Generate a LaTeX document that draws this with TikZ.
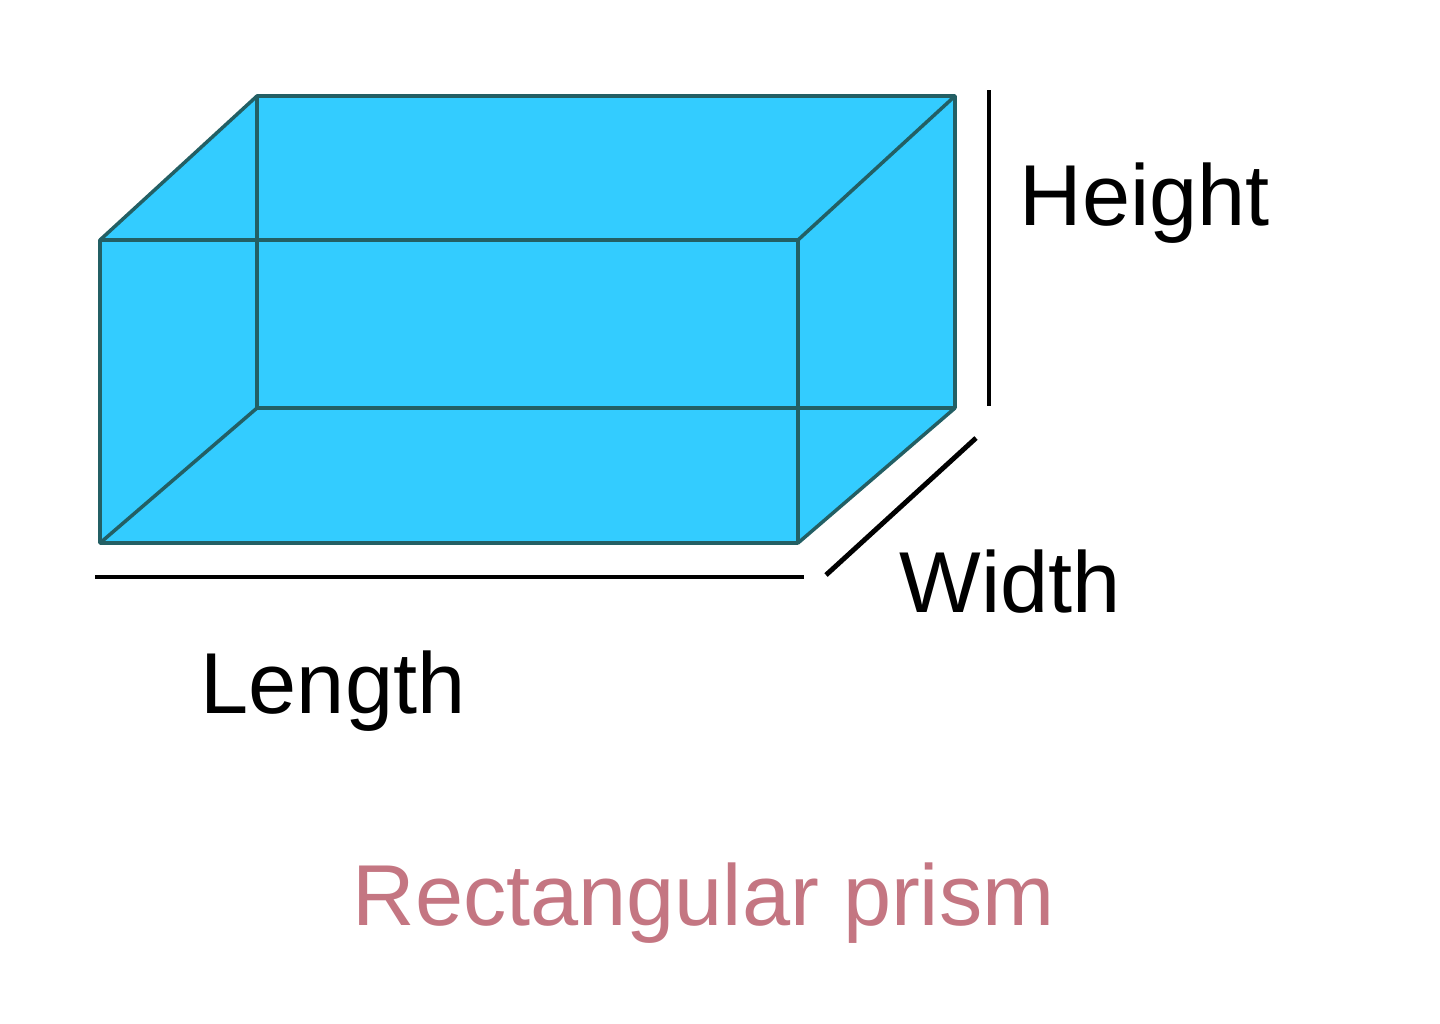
\documentclass[tikz,border=0pt]{standalone}
\usepackage{fontspec}
\setmainfont{Liberation Sans}
\definecolor{prismfill}{RGB}{51,204,255}
\definecolor{prismedge}{RGB}{35,95,100}
\definecolor{captionpink}{RGB}{196,118,130}
\begin{document}
\begin{tikzpicture}[x=0.01cm,y=-0.01cm,
  edge/.style={draw=prismedge,line width=1pt,line join=round},
  dimline/.style={draw=black,line width=1.4pt},
  lbl/.style={anchor=base west,inner sep=0pt,font=\fontsize{24.6}{28}\selectfont},
  ]
\useasboundingbox (0,0) rectangle (1440,1023);
% front face
\coordinate (FTL) at (100,240);
\coordinate (FTR) at (798,240);
\coordinate (FBR) at (798,543);
\coordinate (FBL) at (100,543);
% back face
\coordinate (BTL) at (257,96);
\coordinate (BTR) at (955,96);
\coordinate (BBR) at (955,408);
\coordinate (BBL) at (257,408);
% silhouette fill
\fill[prismfill] (FTL) -- (BTL) -- (BTR) -- (BBR) -- (FBR) -- (FBL) -- cycle;
% edges
\draw[edge] (BTL) -- (BTR) -- (BBR) -- (BBL) -- cycle;
\draw[edge] (FTL) -- (FTR) -- (FBR) -- (FBL) -- cycle;
\draw[edge] (FTL) -- (BTL);
\draw[edge] (FTR) -- (BTR);
\draw[edge] (FBR) -- (BBR);
\draw[edge] (FBL) -- (BBL);
% dimension lines
\coordinate (H1) at (989,90);
\coordinate (H2) at (989,406);
\coordinate (W1) at (826,575);
\coordinate (W2) at (976,438);
\coordinate (L1) at (95,577);
\coordinate (L2) at (804,577);
\draw[dimline] (H1) -- (H2);
\draw[dimline] (W1) -- (W2);
\draw[dimline] (L1) -- (L2);
% labels
\node[lbl] (height) at (1019,225) {Height};
\node[lbl] (width) at (899,612) {Width};
\node[lbl] (length) at (200,713) {Length};
\node[lbl,text=captionpink] (caption) at (352,925) {Rectangular prism};
\end{tikzpicture}
\end{document}
